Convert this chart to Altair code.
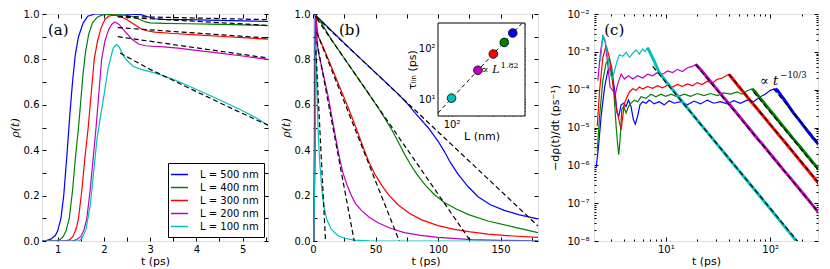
import altair as alt
import pandas as pd

# ------------------------------------------------------------------ data
SERIES = ["L = 500 nm", "L = 400 nm", "L = 300 nm", "L = 200 nm", "L = 100 nm"]
COLORS = ["#0000ff", "#008000", "#ff0000", "#bf00bf", "#00bfbf"]

# panel (a): rho(t) at early times  (t in ps, rho)
a_500 = [(0.66, 0.0), (0.75, 0.002), (0.85, 0.008), (0.95, 0.025), (1.0, 0.045), (1.07, 0.1), (1.13, 0.2),
         (1.2, 0.38), (1.26, 0.55), (1.32, 0.7), (1.38, 0.82), (1.45, 0.9), (1.55, 0.96), (1.65, 0.99),
         (1.8, 1.0), (2.4, 1.0), (2.8, 0.997), (2.95, 0.988), (3.1, 0.979), (3.3, 0.976), (3.8, 0.975),
         (4.5, 0.972), (5.0, 0.97), (5.55, 0.967)]
a_400 = [(0.66, 0.0), (0.95, 0.0), (1.05, 0.006), (1.12, 0.02), (1.18, 0.045), (1.25, 0.1), (1.32, 0.22),
         (1.38, 0.36), (1.45, 0.5), (1.5, 0.62), (1.55, 0.74), (1.6, 0.83), (1.67, 0.91), (1.75, 0.96),
         (1.85, 0.985), (1.95, 0.995), (2.05, 0.998), (2.2, 0.997), (2.45, 0.995), (2.6, 0.99), (2.75, 0.978),
         (2.9, 0.965), (3.0, 0.961), (3.3, 0.959), (3.8, 0.957), (4.3, 0.955), (4.8, 0.953), (5.2, 0.951),
         (5.55, 0.949)]
a_300 = [(0.66, 0.0), (1.15, 0.0), (1.25, 0.005), (1.33, 0.02), (1.4, 0.055), (1.45, 0.1), (1.52, 0.22),
         (1.59, 0.37), (1.66, 0.5), (1.72, 0.64), (1.79, 0.8), (1.86, 0.88), (1.94, 0.94), (2.02, 0.975),
         (2.1, 0.99), (2.2, 0.995), (2.35, 0.99), (2.5, 0.975), (2.65, 0.955), (2.8, 0.935), (2.95, 0.925),
         (3.1, 0.92), (3.5, 0.914), (4.0, 0.908), (4.5, 0.902), (5.0, 0.896), (5.55, 0.889)]
a_200 = [(0.66, 0.0), (1.3, 0.0), (1.4, 0.005), (1.5, 0.02), (1.57, 0.05), (1.63, 0.1), (1.7, 0.22),
         (1.77, 0.37), (1.83, 0.5), (1.89, 0.65), (1.95, 0.8), (2.02, 0.88), (2.1, 0.93), (2.17, 0.955),
         (2.24, 0.965), (2.32, 0.955), (2.45, 0.925), (2.6, 0.89), (2.75, 0.868), (2.9, 0.86), (3.05, 0.858),
         (3.3, 0.855), (3.6, 0.85), (4.0, 0.84), (4.5, 0.828), (5.0, 0.815), (5.55, 0.8)]
a_100 = [(0.66, 0.0), (1.45, 0.0), (1.52, 0.01), (1.61, 0.05), (1.71, 0.165), (1.78, 0.31), (1.85, 0.45),
         (1.92, 0.54), (2.0, 0.64), (2.09, 0.76), (2.2, 0.85), (2.27, 0.865), (2.33, 0.855), (2.41, 0.82),
         (2.5, 0.795), (2.63, 0.77), (2.8, 0.756), (3.0, 0.746), (3.25, 0.73), (3.5, 0.712), (3.8, 0.686),
         (4.2, 0.65), (4.6, 0.612), (5.0, 0.574), (5.3, 0.542), (5.55, 0.51)]
a_fit_500 = [(2.3, 0.99), (5.55, 0.975)]
a_fit_400 = [(2.3, 0.987), (5.55, 0.95)]
a_fit_300 = [(2.3, 0.94), (5.55, 0.894)]
a_fit_200 = [(2.3, 0.9), (5.55, 0.806)]
a_fit_100 = [(2.35, 0.828), (3.0, 0.756), (3.9, 0.668), (4.7, 0.59), (5.55, 0.51)]

# panel (b): rho(t) over long times
b_500 = [(0.7, 0.0), (1.26, 0.5), (1.8, 1.0), (3, 0.99), (15, 0.925), (30, 0.845), (47, 0.757), (60, 0.69),
         (68, 0.648), (75, 0.608), (82, 0.562), (92, 0.5), (100, 0.44), (105, 0.395), (110, 0.345),
         (116, 0.295), (124, 0.24), (132, 0.195), (142, 0.16), (153, 0.135), (165, 0.115), (180, 0.097)]
b_400 = [(0.7, 0.0), (1.45, 0.5), (2.05, 0.998), (5, 0.975), (15, 0.885), (25, 0.805), (35, 0.725),
         (45, 0.645), (52, 0.588), (58, 0.536), (63, 0.49), (68, 0.438), (73, 0.385), (78, 0.337), (83, 0.295),
         (90, 0.245), (97, 0.205), (105, 0.17), (115, 0.14), (125, 0.115), (140, 0.088), (160, 0.062),
         (180, 0.037)]
b_300 = [(0.7, 0.0), (1.66, 0.5), (2.2, 0.995), (4, 0.905), (10, 0.83), (16, 0.75), (22, 0.67), (28, 0.59),
         (33, 0.52), (37, 0.46), (41, 0.4), (45, 0.345), (50, 0.29), (55, 0.245), (61, 0.2), (68, 0.16),
         (77, 0.122), (87, 0.093), (100, 0.068), (113, 0.051), (126, 0.04), (140, 0.03), (160, 0.022),
         (180, 0.016)]
b_200 = [(0.7, 0.0), (1.83, 0.5), (2.24, 0.965), (4, 0.84), (8, 0.74), (12, 0.64), (15, 0.55), (17.3, 0.48),
         (20, 0.4), (22, 0.345), (24, 0.3), (27, 0.25), (30.7, 0.2), (34, 0.165), (38.7, 0.135), (45, 0.105),
         (52, 0.08), (62, 0.056), (73, 0.037), (86, 0.025), (100, 0.016), (127, 0.006), (150, 0.003),
         (180, 0.001)]
b_100 = [(0.7, 0.0), (1.92, 0.54), (2.27, 0.865), (3, 0.72), (4, 0.5), (5, 0.38), (6.7, 0.25), (8, 0.18),
         (9.3, 0.137), (11, 0.095), (14.7, 0.051), (20, 0.023), (25, 0.012), (33, 0.004), (45, 0.001),
         (60, 0.0), (180, 0.0)]
b_fit_500 = [(2, 0.99), (180, 0.066)]
b_fit_400 = [(3, 0.98), (126, 0.0)]
b_fit_300 = [(3, 0.92), (69, 0.0)]
b_fit_200 = [(3, 0.88), (33, 0.0)]
b_fit_100 = [(2.3, 0.84), (10, 0.0)]

# inset of (b): tau_lin versus L
inset_L = [100, 200, 300, 400, 500]
inset_tau = [10.5, 37, 77, 130, 199]
inset_key = ["L = 100 nm", "L = 200 nm", "L = 300 nm", "L = 400 nm", "L = 500 nm"]
inset_fit_L = [70, 640]
inset_fit_tau = [5.4, 310]

# panel (c): -d rho/dt  (t in ps, rate in 1/ps); body up to the late peak, then the noisy tail
c_500 = [(2.15, 8.5e-7), (2.27, 3.4e-6), (2.40, 2.0e-5), (2.59, 1.17e-4), (2.78, 3.13e-4), (2.93, 3.81e-4),
         (3.10, 2.11e-4), (3.27, 7.9e-5), (3.41, 2.43e-5), (3.54, 2.0e-5), (3.73, 3.97e-5), (3.95, 4.38e-5),
         (4.16, 3.6e-5), (4.38, 5.3e-5), (4.64, 3.6e-5), (4.88, 1.64e-5), (5.10, 1.22e-5), (5.37, 2.0e-5),
         (5.65, 3.97e-5), (6.0, 4.83e-5), (6.46, 4.38e-5), (6.94, 5.3e-5), (7.74, 4.2e-5), (8.64, 4.83e-5),
         (9.64, 3.97e-5), (10.8, 5.1e-5), (12.0, 4.38e-5), (13.9, 4.83e-5), (16.1, 3.97e-5), (18.6, 5.0e-5),
         (21.5, 4.2e-5), (24.9, 5.3e-5), (28.8, 4.38e-5), (33.4, 4.83e-5), (38.6, 4.2e-5), (44.8, 5.1e-5),
         (51.8, 4.38e-5), (59.9, 5.3e-5), (69.3, 4.83e-5), (80.3, 6.5e-5), (89.6, 7.6e-5), (100, 9.6e-5),
         (111.6, 1.06e-4)]
c_500_tail = [(111.6, 1.06e-4), (117.5, 9.6e-5), (124.5, 7.6e-5), (144, 4.38e-5), (166.8, 2.43e-5),
              (193, 1.48e-5), (223, 8.7e-6), (258.6, 5.2e-6), (295, 3.4e-6)]
c_400 = [(2.20, 2.3e-6), (2.32, 2.0e-5), (2.49, 1.73e-4), (2.68, 5.1e-4), (2.88, 6.9e-4), (3.04, 3.8e-4),
         (3.18, 7.9e-5), (3.34, 1.1e-5), (3.46, 3.4e-6), (3.54, 1.9e-6), (3.65, 5.0e-6), (3.78, 2.95e-5),
         (3.95, 3.6e-5), (4.16, 2.43e-5), (4.38, 3.6e-5), (4.64, 4.4e-5), (4.99, 5.3e-5), (5.37, 4.8e-5),
         (5.78, 6.5e-5), (6.46, 5.9e-5), (7.20, 7.6e-5), (8.03, 6.5e-5), (8.96, 7.6e-5), (10.0, 6.7e-5),
         (11.2, 7.6e-5), (12.9, 6.5e-5), (15.0, 7.6e-5), (17.3, 6.7e-5), (20.0, 7.9e-5), (23.2, 7.0e-5),
         (26.8, 7.9e-5), (31.1, 7.0e-5), (35.9, 8.2e-5), (41.6, 7.6e-5), (48.2, 8.7e-5), (53.8, 7.6e-5),
         (59.9, 9.2e-5), (66.9, 1.06e-4)]
c_400_tail = [(66.9, 1.06e-4), (72.0, 8.7e-5), (80.3, 5.9e-5), (92.9, 3.6e-5), (107.6, 2.2e-5),
              (124.5, 1.34e-5), (144, 8.2e-6), (166.8, 5.0e-6), (193, 3.1e-6), (223, 1.9e-6),
              (258.6, 1.15e-6), (295, 7.7e-7)]
c_300 = [(2.20, 1.1e-5), (2.32, 9.6e-5), (2.49, 6.9e-4), (2.68, 1.51e-3), (2.88, 6.9e-4), (3.10, 1.42e-4),
         (3.34, 3.6e-5), (3.54, 1.64e-5), (3.73, 8.7e-6), (3.87, 2.0e-5), (4.01, 4.4e-5), (4.26, 6.5e-5),
         (4.48, 8.7e-5), (4.82, 1.06e-4), (5.18, 9.6e-5), (5.57, 1.17e-4), (6.0, 1.04e-4), (6.69, 1.22e-4),
         (7.46, 1.08e-4), (8.33, 1.27e-4), (9.29, 1.12e-4), (10.4, 1.32e-4), (11.6, 1.17e-4), (12.9, 1.37e-4),
         (14.4, 1.22e-4), (16.1, 1.42e-4), (18.0, 1.27e-4), (20.0, 1.54e-4), (22.3, 1.37e-4), (24.9, 1.67e-4),
         (27.8, 1.48e-4), (31.1, 1.88e-4), (34.7, 2.03e-4), (38.1, 2.38e-4), (40.1, 2.57e-4)]
c_300_tail = [(40.1, 2.57e-4), (43.1, 2.03e-4), (48.2, 1.37e-4), (55.7, 8.4e-5), (64.5, 5.1e-5),
              (74.6, 3.19e-5), (86.4, 1.95e-5), (100, 1.19e-5), (115.7, 7.3e-6), (133.9, 4.55e-6),
              (155, 2.78e-6), (179.4, 1.7e-6), (207.6, 1.04e-6), (240.4, 6.4e-7), (295, 3.19e-7)]
c_200 = [(2.23, 1.73e-4), (2.37, 1.02e-3), (2.49, 2.47e-3), (2.62, 1.84e-3), (2.78, 4.64e-4), (2.92, 1.17e-4),
         (3.10, 9.6e-5), (3.27, 7.2e-5), (3.46, 1.42e-4), (3.73, 2.57e-4), (4.01, 1.91e-4), (4.38, 2.33e-4),
         (4.82, 1.91e-4), (5.37, 2.33e-4), (6.0, 2.03e-4), (6.69, 2.57e-4), (7.46, 2.33e-4), (8.33, 2.84e-4),
         (9.29, 2.57e-4), (10.4, 3.13e-4), (11.6, 2.84e-4), (12.9, 3.45e-4), (14.4, 3.01e-4), (16.1, 3.81e-4),
         (18.0, 4.12e-4), (19.3, 4.64e-4)]
c_200_tail = [(19.3, 4.64e-4), (20.8, 3.81e-4), (23.2, 2.67e-4), (26.8, 1.64e-4), (31.1, 1.0e-4),
              (35.9, 6.1e-5), (41.6, 3.81e-5), (48.2, 2.33e-5), (55.7, 1.43e-5), (64.5, 8.7e-6), (74.6, 5.3e-6),
              (86.4, 3.32e-6), (100, 2.03e-6), (115.7, 1.24e-6), (133.9, 7.6e-7), (155, 4.73e-7),
              (179.4, 2.9e-7), (207.6, 1.77e-7), (240.4, 1.08e-7), (295, 5.4e-8)]
c_100 = [(2.37, 5.65e-4), (2.49, 2.84e-3), (2.62, 2.03e-3), (2.78, 6.89e-4), (2.93, 2.57e-4), (3.06, 1.91e-4),
         (3.22, 3.13e-4), (3.41, 5.65e-4), (3.59, 8.38e-4), (3.87, 7.6e-4), (4.16, 9.8e-4), (4.48, 7.16e-4),
         (4.82, 9.25e-4), (5.18, 1.12e-3), (5.57, 8.7e-4), (6.0, 1.19e-3), (6.31, 1.02e-3), (6.69, 1.29e-3)]
c_100_tail = [(6.69, 1.29e-3), (7.1, 9.25e-4), (7.74, 5.65e-4), (8.64, 2.84e-4), (10.0, 1.67e-4),
              (11.6, 1.0e-4), (13.9, 5.4e-5), (20.0, 1.57e-5), (28.8, 4.65e-6), (41.6, 1.34e-6),
              (59.9, 3.96e-7), (92.9, 9.1e-8), (133.9, 2.62e-8), (179.4, 9.8e-9), (207.6, 6.0e-9)]
c_fit_500 = [(107.6, 1.06e-4), (295, 3.67e-6)]
c_fit_400 = [(69.3, 8.7e-5), (295, 7.0e-7)]
c_fit_300 = [(40.1, 2.57e-4), (295, 3.3e-7)]
c_fit_200 = [(19.3, 4.64e-4), (295, 5.4e-8)]
c_fit_100 = [(7.5, 4.1e-4), (190, 8.65e-9)]

# axes
A_XDOM, A_YDOM = [0.66, 5.55], [0.0, 1.0]
B_XDOM, B_YDOM = [0.0, 180.0], [0.0, 1.0]
C_XDOM, C_YDOM = [2.05, 287.0], [1e-8, 1e-2]
I_XDOM, I_YDOM = [70.0, 690.0], [4.7, 312.0]
A_XTICKS = [1.0, 1.5, 2.0, 2.5, 3.0, 3.5, 4.0, 4.5, 5.0, 5.5]
Y01_TICKS = [0.0, 0.1, 0.2, 0.3, 0.4, 0.5, 0.6, 0.7, 0.8, 0.9, 1.0]
B_XTICKS = [0, 25, 50, 75, 100, 125, 150, 175]
C_XMAJOR = [10, 100]
C_XMINOR = [3, 4, 5, 6, 7, 8, 9, 20, 30, 40, 50, 60, 70, 80, 90, 200]
C_YMAJOR = [1e-8, 1e-7, 1e-6, 1e-5, 1e-4, 1e-3, 1e-2]
C_YMINOR = [k * 10.0 ** e for e in range(-8, -2) for k in range(2, 10)]
I_XMAJOR = [100]
I_XMINOR = [80, 90, 200, 300, 400, 500, 600]
I_YMAJOR = [10, 100]
I_YMINOR = [5, 6, 7, 8, 9, 20, 30, 40, 50, 60, 70, 80, 90, 200, 300]

# ------------------------------------------------------------------ layout / style
W_A, W_B, W_C, H = 226, 225, 224, 227
TK, TKM = 4, 2
FONT = "DejaVu Sans"
SERIF = "DejaVu Serif"

SUP = "['⁰','¹','²','³','⁴','⁵','⁶','⁷','⁸','⁹'][abs(round(log(datum.value)/LN10))]"
POW_EXPR = "'10' + (datum.value < 1 ? '⁻' : '') + " + SUP
HALF_EXPR = "datum.value % 1 == 0 ? format(datum.value, 'd') : ''"
EVEN_EXPR = "round(datum.value * 10) % 2 == 0 ? format(datum.value, '.1f') : ''"
FIFTY_EXPR = "datum.value % 50 == 0 ? format(datum.value, 'd') : ''"

cscale = alt.Scale(domain=SERIES, range=COLORS)


def ax(orient, values, size, expr=None, offset=None, title_font=FONT, title_style="normal", tpad=3, lpad=3):
    kw = dict(orient=orient, values=values, tickSize=size, offset=(-size if offset is None else offset),
              domain=False, grid=False, ticks=True, tickColor="black", tickWidth=1,
              labels=expr is not None, labelOverlap=False, labelFlush=False,
              titleFont=title_font, titleFontStyle=title_style, titleFontSize=11,
              titleFontWeight="normal", titleColor="black", titlePadding=tpad)
    if expr is not None:
        kw.update(labelExpr=expr, labelFont=FONT, labelFontSize=10, labelColor="black", labelPadding=lpad)
    return alt.Axis(**kw)


def long_df(series, keys=SERIES):
    rows = []
    for key, pts in zip(keys, series):
        for t, v in pts:
            rows.append({"t": t, "v": v, "L": key})
    return pd.DataFrame(rows)


def frame(xdom, ydom, xs, ys, xaxis, yaxis):
    return alt.Chart(pd.DataFrame({"x": xdom, "y": ydom})).mark_point(opacity=0).encode(
        x=alt.X("x:Q", scale=xs, axis=xaxis, title=None),
        y=alt.Y("y:Q", scale=ys, axis=yaxis, title=None))


def note(x, y, text, xs, ys, size, font=SERIF, style="normal"):
    return alt.Chart(pd.DataFrame({"x": [x], "y": [y], "s": [text]})).mark_text(
        align="left", baseline="middle", font=font, fontSize=size, fontStyle=style, color="black").encode(
        x=alt.X("x:Q", scale=xs, axis=None), y=alt.Y("y:Q", scale=ys, axis=None), text="s:N")


def curves(df, xs, ys, width=1.2, xaxis=None, yaxis=None, xtitle=None, ytitle=None, legend=None):
    return alt.Chart(df).mark_line(strokeWidth=width, clip=True).encode(
        x=alt.X("t:Q", scale=xs, axis=xaxis, title=xtitle),
        y=alt.Y("v:Q", scale=ys, axis=yaxis, title=ytitle),
        color=alt.Color("L:N", scale=cscale, legend=legend))


def fits(df, xs, ys):
    return alt.Chart(df).mark_line(color="black", strokeWidth=1.2, strokeDash=[5, 3], clip=True).encode(
        x=alt.X("t:Q", scale=xs, axis=None), y=alt.Y("v:Q", scale=ys, axis=None), detail="L:N")


# ------------------------------------------------------------------ panel (a)
xa = alt.Scale(domain=A_XDOM, nice=False, zero=False)
ya = alt.Scale(domain=A_YDOM, nice=False, zero=False)
legend_a = alt.Legend(title=None, orient="bottom-right", offset=4, symbolType="M-1.5,0L1.5,0",
                      symbolStrokeWidth=1.5, symbolSize=130, labelFont=FONT, labelFontSize=10,
                      labelColor="black", labelOffset=14, strokeColor="black", fillColor="white",
                      padding=5, rowPadding=1, cornerRadius=0)
panel_a = alt.layer(
    curves(long_df([a_500, a_400, a_300, a_200, a_100]), xa, ya,
           xaxis=ax("bottom", A_XTICKS, TK, HALF_EXPR, tpad=1),
           yaxis=ax("left", Y01_TICKS, TK, EVEN_EXPR, title_font=SERIF, title_style="italic"),
           xtitle="t (ps)", ytitle="ρ(t)", legend=legend_a),
    fits(long_df([a_fit_500, a_fit_400, a_fit_300, a_fit_200, a_fit_100]), xa, ya),
    frame(A_XDOM, A_YDOM, xa, ya, ax("top", A_XTICKS, TK), ax("right", Y01_TICKS, TK)),
    note(0.79, 0.93, "(a)", xa, ya, 15),
).resolve_axis(x="independent", y="independent").properties(width=W_A, height=H)

# ------------------------------------------------------------------ panel (b) with inset
xb = alt.Scale(domain=B_XDOM, nice=False, zero=False)
yb = alt.Scale(domain=B_YDOM, nice=False, zero=False)
IX0, IX1, IY0, IY1 = 125, 212, 102, 9   # inset placement inside panel (b), pixels
xi = alt.Scale(type="log", domain=I_XDOM, range=[IX0, IX1], nice=False)
yi = alt.Scale(type="log", domain=I_YDOM, range=[IY0, IY1], nice=False)
TI, TIM = 3, 1.5

inset_box = alt.Chart(pd.DataFrame({"x": [I_XDOM[0]], "x2": [I_XDOM[1]], "y": [I_YDOM[0]], "y2": [I_YDOM[1]]})
                      ).mark_rect(fill="white", stroke="black", strokeWidth=1).encode(
    x=alt.X("x:Q", scale=xi, axis=None), x2="x2", y=alt.Y("y:Q", scale=yi, axis=None), y2="y2")
inset_fit = alt.Chart(pd.DataFrame({"L": inset_fit_L, "tau": inset_fit_tau})).mark_line(
    color="black", strokeWidth=1, strokeDash=[4, 3]).encode(
    x=alt.X("L:Q", scale=xi, axis=None), y=alt.Y("tau:Q", scale=yi, axis=None))
inset_pts = alt.Chart(pd.DataFrame({"Lv": inset_L, "tau": inset_tau, "L": inset_key})).mark_circle(
    size=75, opacity=1, stroke="black", strokeWidth=0.8).encode(
    x=alt.X("Lv:Q", scale=xi, axis=None), y=alt.Y("tau:Q", scale=yi, axis=None),
    color=alt.Color("L:N", scale=cscale, legend=None))

panel_b = alt.layer(
    curves(long_df([b_500, b_400, b_300, b_200, b_100]), xb, yb,
           xaxis=ax("bottom", B_XTICKS, TK, FIFTY_EXPR, tpad=1),
           yaxis=ax("left", Y01_TICKS, TK, EVEN_EXPR, title_font=SERIF, title_style="italic"),
           xtitle="t (ps)", ytitle="ρ(t)"),
    fits(long_df([b_fit_500, b_fit_400, b_fit_300, b_fit_200, b_fit_100]), xb, yb),
    frame(B_XDOM, B_YDOM, xb, yb, ax("top", B_XTICKS, TK), ax("right", Y01_TICKS, TK)),
    note(20.8, 0.93, "(b)", xb, yb, 15),
    inset_box, inset_fit, inset_pts,
    note(218, 36.9, "∝ L", xi, yi, 11, style="italic"),
    note(365, 45, "1.82", xi, yi, 8),
    alt.Chart(pd.DataFrame({"x": I_XDOM, "y": I_YDOM})).mark_point(opacity=0).encode(
        x=alt.X("x:Q", scale=xi, title="L (nm)",
                axis=ax("bottom", I_XMAJOR, TI, POW_EXPR, offset=IY0 - TI - H, tpad=1)),
        y=alt.Y("y:Q", scale=yi, title="τₗᵢₙ (ps)",
                axis=ax("left", I_YMAJOR, TI, POW_EXPR, offset=-(IX0 + TI), tpad=1))),
    frame(I_XDOM, I_YDOM, xi, yi, ax("top", I_XMAJOR, TI, offset=-(IY1 + TI)),
          ax("right", I_YMAJOR, TI, offset=IX1 - TI - W_B)),
    frame(I_XDOM, I_YDOM, xi, yi, ax("bottom", I_XMINOR, TIM, offset=IY0 - TIM - H),
          ax("left", I_YMINOR, TIM, offset=-(IX0 + TIM))),
    frame(I_XDOM, I_YDOM, xi, yi, ax("top", I_XMINOR, TIM, offset=-(IY1 + TIM)),
          ax("right", I_YMINOR, TIM, offset=IX1 - TIM - W_B)),
).resolve_scale(x="independent", y="independent").resolve_axis(
    x="independent", y="independent").properties(width=W_B, height=H)

# ------------------------------------------------------------------ panel (c)
xc = alt.Scale(type="log", domain=C_XDOM, nice=False)
yc = alt.Scale(type="log", domain=C_YDOM, nice=False)
panel_c = alt.layer(
    curves(long_df([c_500, c_400, c_300, c_200, c_100]), xc, yc,
           xaxis=ax("bottom", C_XMAJOR, TK, POW_EXPR, tpad=1),
           yaxis=ax("left", C_YMAJOR, TK, POW_EXPR, tpad=6, lpad=5),
           xtitle="t (ps)", ytitle="−dρ(t)/dt (ps⁻¹)"),
    curves(long_df([c_500_tail, c_400_tail, c_300_tail, c_200_tail, c_100_tail]), xc, yc, width=3),
    fits(long_df([c_fit_500, c_fit_400, c_fit_300, c_fit_200, c_fit_100]), xc, yc),
    frame(C_XDOM, C_YDOM, xc, yc, ax("top", C_XMAJOR, TK), ax("right", C_YMAJOR, TK)),
    frame(C_XDOM, C_YDOM, xc, yc, ax("bottom", C_XMINOR, TKM), ax("left", C_YMINOR, TKM)),
    frame(C_XDOM, C_YDOM, xc, yc, ax("top", C_XMINOR, TKM), ax("right", C_YMINOR, TKM)),
    note(2.57, 3.8e-3, "(c)", xc, yc, 15),
    note(80, 1.7e-4, "∝ t", xc, yc, 13, style="italic"),
    note(125, 2.4e-4, "−10/3", xc, yc, 8.5),
).resolve_axis(x="independent", y="independent").properties(width=W_C, height=H)

chart = alt.hconcat(panel_a, panel_b, panel_c, spacing=7).resolve_scale(
    color="independent").properties(padding=0).configure_view(
    stroke="black", strokeWidth=1).configure(font=FONT)

chart.save("out.html", embed_options={"renderer": "svg", "actions": False})
